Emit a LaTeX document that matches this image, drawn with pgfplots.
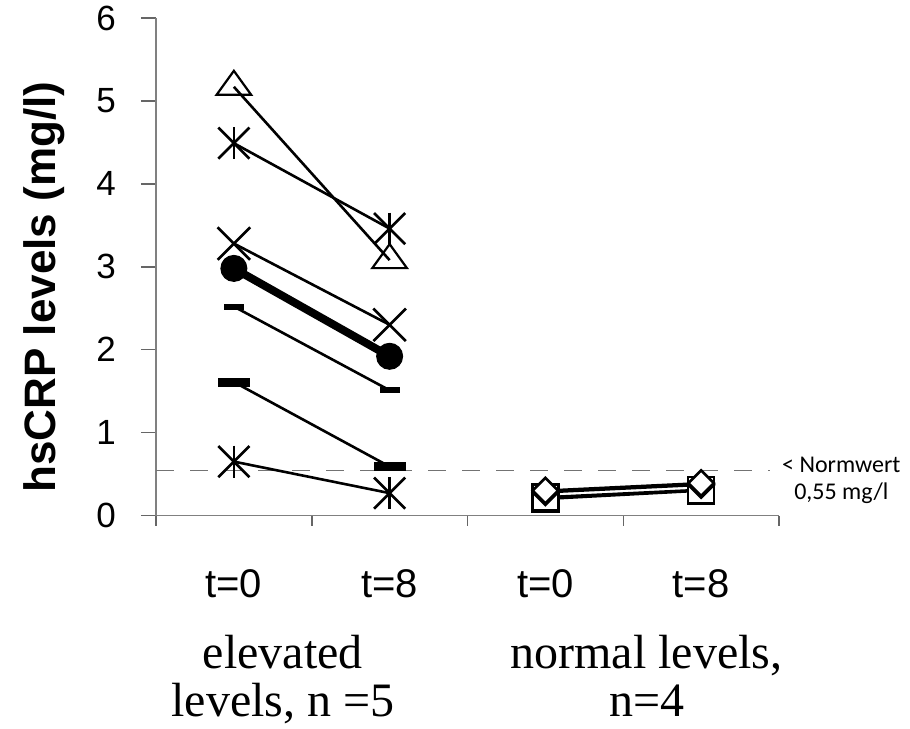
\documentclass[border=0pt]{standalone}
\usepackage{fontspec}
\setmainfont{Liberation Serif}
\setsansfont{Liberation Sans}
\newfontfamily\calib{Carlito}
\usepackage{pgfplots}
\pgfplotsset{compat=1.18}

\begin{document}
\begin{tikzpicture}
\path[use as bounding box] (0,0) rectangle (910pt,-728pt);
\begin{axis}[
    at={(156pt,-515.5pt)}, anchor=south west,
    scale only axis, width=623pt, height=497.5pt,
    xmin=0, xmax=4, ymin=0, ymax=6,
    axis x line=bottom, axis y line=left,
    axis line style={-, black!50, line width=1.5pt},
    tick align=outside,
    xtick={0.5,1.5,2.5,3.5},
    xticklabels={t=0,t=8,t=0,t=8},
    major x tick style={draw=none},
    minor xtick={0,1,2,3,4},
    minor tick length=10pt,
    ytick={0,1,2,3,4,5,6},
    major tick length=15pt,
    tick style={black!60, line width=1.5pt},
    /pgf/number format/assume math mode=true,
    yticklabel style={font=\sffamily\fontsize{35}{35}\selectfont, inner sep=0pt, xshift=-25pt},
    xticklabel style={font=\sffamily\fontsize{40}{40}\selectfont, anchor=base, inner sep=0pt, yshift=-67pt},
    ylabel={hsCRP levels (mg/l)},
    ylabel style={at={(axis description cs:-0.179,0.459)}, anchor=center,
        font=\sffamily\bfseries\fontsize{44}{44}\selectfont},
    clip=false,
]

% reference value 0.55 mg/l
\addplot[black!55, line width=1.5pt, dash pattern=on 18pt off 16pt] coordinates {(0,0.54)(3.94,0.54)};

% elevated levels, n=5
\addplot[black, line width=2.6pt, mark=triangle, mark size=16pt,
    mark options={fill=white, xscale=1.25, line width=2.2pt}] coordinates {(0.5,5.17)(1.5,3.08)};
\addplot[black, line width=2.6pt, mark=x, mark size=22pt, mark options={line width=2.6pt}]
    coordinates {(0.5,4.49)(1.5,3.46)};
\addplot[black, only marks, mark=|, mark size=16pt, mark options={line width=2.6pt}]
    coordinates {(0.5,4.49)(1.5,3.46)};
\addplot[black, line width=2.6pt, mark=x, mark size=23pt, mark options={line width=2.6pt}]
    coordinates {(0.5,3.28)(1.5,2.30)};
\addplot[black, line width=8pt, mark=*, mark size=13pt, mark options={line width=1pt}]
    coordinates {(0.5,2.98)(1.5,1.92)};
\addplot[black, line width=2.6pt, mark=-, mark size=10pt, mark options={line width=6pt}]
    coordinates {(0.5,2.52)(1.5,1.51)};
\addplot[black, line width=2.6pt, mark=-, mark size=16pt, mark options={line width=9pt}]
    coordinates {(0.5,1.61)(1.5,0.59)};
\addplot[black, line width=2.6pt, mark=x, mark size=22pt, mark options={line width=2.6pt}]
    coordinates {(0.5,0.65)(1.5,0.27)};
\addplot[black, only marks, mark=|, mark size=16pt, mark options={line width=2.6pt}]
    coordinates {(0.5,0.65)(1.5,0.27)};

% normal levels, n=4
\addplot[black, line width=2.6pt, mark=square*, mark size=13pt, mark options={fill=white, line width=2.6pt}]
    coordinates {(2.5,0.20)(3.5,0.30)};
\addplot[black, line width=2.6pt, mark=square*, mark size=13pt, mark options={fill=white, line width=2.6pt}]
    coordinates {(2.5,0.22)(3.5,0.31)};
\addplot[black, line width=2.6pt, mark=square*, mark size=9pt, mark options={fill=white, rotate=45, line width=2.6pt}]
    coordinates {(2.5,0.28)(3.5,0.37)};
\addplot[black, line width=2.6pt, mark=square*, mark size=9pt, mark options={fill=white, rotate=45, line width=2.6pt}]
    coordinates {(2.5,0.30)(3.5,0.39)};

\node[font=\calib\fontsize{24}{27}\selectfont, align=center] at (axis cs:4.40,0.42) {< Normwert\\0,55 mg/l};

\node[font=\rmfamily\fontsize{48}{48}\selectfont, anchor=base] at (axis cs:0.815,-1.84) {elevated};
\node[font=\rmfamily\fontsize{48}{48}\selectfont, anchor=base] at (axis cs:0.815,-2.43) {levels, n =5};
\node[font=\rmfamily\fontsize{48}{48}\selectfont, anchor=base] at (axis cs:3.15,-1.84) {normal levels,};
\node[font=\rmfamily\fontsize{48}{48}\selectfont, anchor=base] at (axis cs:3.15,-2.43) {n=4};
\end{axis}
\end{tikzpicture}
\end{document}
